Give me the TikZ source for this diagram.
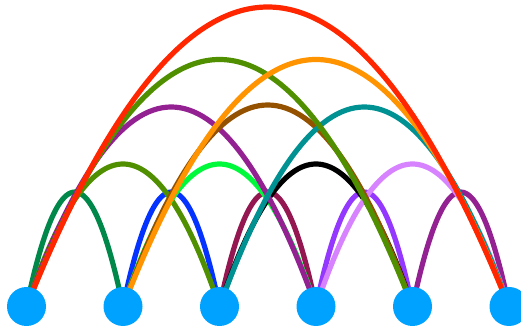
\documentclass[tikz,border=0pt]{standalone}
\usetikzlibrary{calc}
\definecolor{cRed}{HTML}{FF2600}
\definecolor{cOlive}{HTML}{4F8F00}
\definecolor{cOrange}{HTML}{FF9300}
\definecolor{cPurple}{HTML}{942192}
\definecolor{cBrown}{HTML}{945200}
\definecolor{cTeal}{HTML}{009193}
\definecolor{cGreen}{HTML}{00F93A}
\definecolor{cLilac}{HTML}{D783FF}
\definecolor{cDkGreen}{HTML}{00874A}
\definecolor{cBlue}{HTML}{0433FF}
\definecolor{cMaroon}{HTML}{941751}
\definecolor{cViolet}{HTML}{9437FF}
\definecolor{cNode}{HTML}{00A2FF}
\newcommand\arcab[4]{\draw[arcline,#4] (#1.center) .. controls ($(#1)!1/3!(#2)+(0,#3*4/3)$) and ($(#1)!2/3!(#2)+(0,#3*4/3)$) .. (#2.center);}
\begin{document}
\begin{tikzpicture}[x=1pt,y=1pt,
  vtx/.style={circle,fill=cNode,minimum size=39pt,inner sep=0pt},
  arcline/.style={line width=5.2pt}]
\useasboundingbox (0,0) rectangle (521,331);
\foreach \i in {0,...,5}{
  \coordinate (n\i) at (26.5+96.5*\i,24.5);
}
% spans of 1
\arcab{n0}{n1}{114.5}{cDkGreen}
\arcab{n1}{n2}{114.5}{cBlue}
\arcab{n2}{n3}{114.5}{cMaroon}
\arcab{n3}{n4}{114.5}{cViolet}
\arcab{n4}{n5}{114.5}{cPurple}
% spans of 2
\arcab{n0}{n2}{142.5}{cOlive}
\arcab{n1}{n3}{142.5}{cGreen}
\arcab{n2}{n4}{142.5}{black}
\arcab{n3}{n5}{142.5}{cLilac}
% spans of 3
\arcab{n0}{n3}{199.5}{cPurple}
\arcab{n1}{n4}{201.5}{cBrown}
\arcab{n2}{n5}{199.5}{cTeal}
% spans of 4
\arcab{n0}{n4}{247}{cOlive}
\arcab{n1}{n5}{247}{cOrange}
% span of 5
\arcab{n0}{n5}{299.5}{cRed}
\foreach \i in {0,...,5}{
  \node[vtx] (v\i) at (n\i) {};
}
\end{tikzpicture}
\end{document}
